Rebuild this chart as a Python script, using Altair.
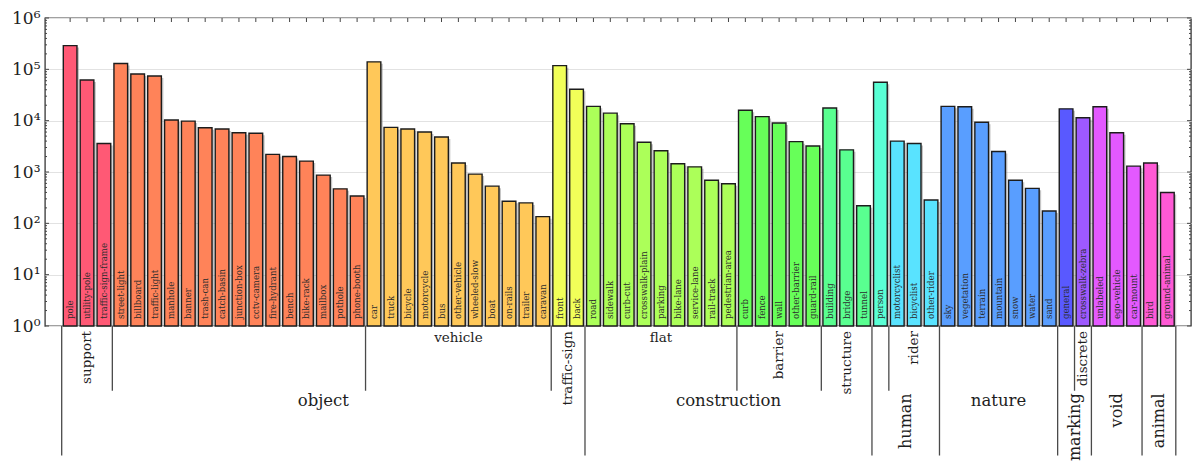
import altair as alt
import pandas as pd

# Per-class pixel counts, in hierarchy order
labels = [
    "pole", "utility-pole", "traffic-sign-frame",
    "street-light", "billboard", "traffic-light", "manhole", "banner", "trash-can",
    "catch-basin", "junction-box", "cctv-camera", "fire-hydrant", "bench", "bike-rack",
    "mailbox", "pothole", "phone-booth",
    "car", "truck", "bicycle", "motorcycle", "bus", "other-vehicle", "wheeled-slow",
    "boat", "on-rails", "trailer", "caravan",
    "front", "back",
    "road", "sidewalk", "curb-cut", "crosswalk-plain", "parking", "bike-lane",
    "service-lane", "rail-track", "pedestrian-area",
    "curb", "fence", "wall", "other-barrier", "guard-rail",
    "building", "bridge", "tunnel",
    "person",
    "motorcyclist", "bicyclist", "other-rider",
    "sky", "vegetation", "terrain", "mountain", "snow", "water", "sand",
    "general",
    "crosswalk-zebra",
    "unlabeled", "ego-vehicle", "car-mount",
    "bird", "ground-animal",
]
counts = [
    290000, 62000, 3600,
    130000, 81000, 74000, 10300, 9800, 7300,
    6900, 5800, 5700, 2200, 2000, 1630,
    870, 470, 340,
    140000, 7400, 6900, 6000, 4800, 1500, 910,
    530, 270, 250, 135,
    118000, 41000,
    19000, 14000, 8700, 3800, 2600, 1450,
    1260, 690, 590,
    16000, 12000, 9000, 3900, 3200,
    17700, 2700, 220,
    56000,
    4000, 3600, 285,
    19000, 18700, 9300, 2500, 690, 480, 174,
    17000,
    11400,
    18700, 5800, 1300,
    1500, 400,
]

# Consecutive runs of classes: top-level category, sub-category, run length
group_top = ["object", "object", "object", "object", "construction", "construction",
             "construction", "human", "human", "nature", "marking", "marking", "void", "animal"]
group_sub = ["support", "", "vehicle", "traffic-sign", "flat", "barrier",
             "structure", "", "rider", "", "", "discrete", "", ""]
group_size = [3, 15, 11, 2, 9, 5, 3, 1, 3, 7, 1, 1, 3, 2]
palette = ["#ff5975", "#ff8359", "#ffc859", "#f1ff59", "#acff59", "#67ff59", "#59ff90",
           "#59ffd5", "#59e3ff", "#599eff", "#5959ff", "#9e59ff", "#e359ff", "#ff59d5"]

SERIF = "DejaVu Serif"
W, H = 1146, 308
PX_PER_LEVEL = 64.76

# ---- bar table ----
rows = []
i = 0
for g, n in enumerate(group_size):
    for _ in range(n):
        rows.append({"pos": i, "x0": i - 0.405, "x1": i + 0.405,
                     "label": labels[i], "count": counts[i], "color": palette[g]})
        i += 1
bars = pd.DataFrame(rows)
n_bars = len(bars)

# ---- hierarchy spans ----
top_spans, sub_spans = [], []
start = 0
for g, n in enumerate(group_size):
    end = start + n
    if top_spans and top_spans[-1][0] == group_top[g]:
        top_spans[-1][2] = end
    else:
        top_spans.append([group_top[g], start, end])
    if group_sub[g]:
        sub_spans.append([group_sub[g], start, end])
    start = end

long_cuts = sorted({s for _, s, _ in top_spans} | {n_bars})
short_cuts = sorted(({s for _, s, _ in sub_spans} | {e for _, _, e in sub_spans}) - set(long_cuts))

cut_rows = [{"pos": c - 0.5, "d0": 0, "d1": -2} for c in long_cuts] + \
           [{"pos": c - 0.5, "d0": 0, "d1": -1} for c in short_cuts]
cuts = pd.DataFrame(cut_rows)

name_rows = []
for name, s, e in sub_spans:
    horiz = (e - s) >= 7
    name_rows.append({"name": name, "pos": (s + e - 1) / 2, "fs": 13.5, "horiz": horiz,
                      "d": -0.185 if horiz else -0.077})
for name, s, e in top_spans:
    horiz = (e - s) >= 7
    name_rows.append({"name": name, "pos": (s + e - 1) / 2,
                      "fs": 16.5 if horiz else 16, "horiz": horiz,
                      "d": -1.158 if horiz else -1.04})
names = pd.DataFrame(name_rows)

# ---- log-axis ticks (drawn inside the frame) ----
tick_rows = [{"v": 10 ** k, "major": True} for k in range(7)]
tick_rows += [{"v": m * 10 ** k, "major": False} for k in range(6) for m in range(2, 10)]
ticks = pd.DataFrame(tick_rows)

x_scale = alt.Scale(domain=[-1.489, 66.40], nice=False, zero=False)
y_scale = alt.Scale(type="log", domain=[1, 1e6], nice=False)
X = alt.X("pos:Q", scale=x_scale, axis=None)

y_axis = alt.Axis(
    values=[10 ** k for k in range(7)],
    labelExpr="'10' + ['⁰','¹','²','³','⁴','⁵','⁶'][round(log(datum.value)/LN10)]",
    grid=True, gridColor="#e2e2e2", gridWidth=1,
    ticks=False, domain=False, title=None,
    labelFont=SERIF, labelFontSize=17, labelColor="#222", labelPadding=5,
)

shadow = alt.Chart(bars).mark_bar(
    color="#8c8c8c", opacity=0.5, xOffset=2, x2Offset=2, yOffset=2, clip=True
).encode(
    x=alt.X("x0:Q", scale=x_scale, axis=None), x2="x1:Q",
    y=alt.Y("count:Q", scale=y_scale, axis=y_axis), y2=alt.datum(1),
)

bar = alt.Chart(bars).mark_bar(stroke="#1c1c1c", strokeWidth=1.4).encode(
    x=alt.X("x0:Q", scale=x_scale, axis=None), x2="x1:Q",
    y=alt.Y("count:Q", scale=y_scale, axis=y_axis), y2=alt.datum(1),
    color=alt.Color("color:N", scale=None),
)

bar_text = alt.Chart(bars).mark_text(
    angle=270, align="left", baseline="middle", font=SERIF, fontSize=8.6,
    color="#2c2c2c", yOffset=-7,
).encode(x=X, y=alt.datum(1), text="label:N")

top_ticks = alt.Chart(bars).mark_rule(color="#444", strokeWidth=1).encode(
    x=X, y=alt.value(0), y2=alt.value(4)
)

Yt = alt.Y("v:Q", scale=y_scale)
tick_layers = []
for major, ln in [(True, 4), (False, 2)]:
    src = alt.Chart(ticks).transform_filter(alt.datum.major == major)
    tick_layers.append(src.mark_rule(color="#444", strokeWidth=1).encode(
        y=Yt, x=alt.value(0), x2=alt.value(ln)))
    tick_layers.append(src.mark_rule(color="#444", strokeWidth=1).encode(
        y=Yt, x=alt.value(W), x2=alt.value(W - ln)))

main = alt.layer(shadow, bar, bar_text, top_ticks, *tick_layers)

# ---- category tree below the axis ----
d_scale = alt.Scale(domain=[0, H / PX_PER_LEVEL], nice=False, zero=False)

cut_rules = alt.Chart(cuts).mark_rule(color="#4a4a4a", strokeWidth=1.3).encode(
    x=X, y=alt.Y("d0:Q", scale=d_scale, axis=None), y2="d1:Q"
)
names_h = alt.Chart(names).transform_filter(alt.datum.horiz == True).mark_text(
    align="center", baseline="middle", font=SERIF, color="#1e1e1e"
).encode(x=X, y=alt.Y("d:Q", scale=d_scale, axis=None),
         text="name:N", size=alt.Size("fs:Q", scale=None))
names_v = alt.Chart(names).transform_filter(alt.datum.horiz == False).mark_text(
    angle=270, align="right", baseline="middle", font=SERIF, color="#1e1e1e"
).encode(x=X, y=alt.Y("d:Q", scale=d_scale, axis=None),
         text="name:N", size=alt.Size("fs:Q", scale=None))

tree = alt.layer(cut_rules, names_h, names_v)

chart = alt.layer(main, tree).resolve_scale(y="independent").properties(
    width=W, height=H,
    autosize=alt.AutoSizeParams(type="none"),
    padding={"left": 45, "top": 18, "right": 1, "bottom": 136},
    background="white",
).configure_view(stroke="#444", strokeWidth=1.4)

chart.save("out.html", embed_options={"renderer": "svg", "actions": False})
